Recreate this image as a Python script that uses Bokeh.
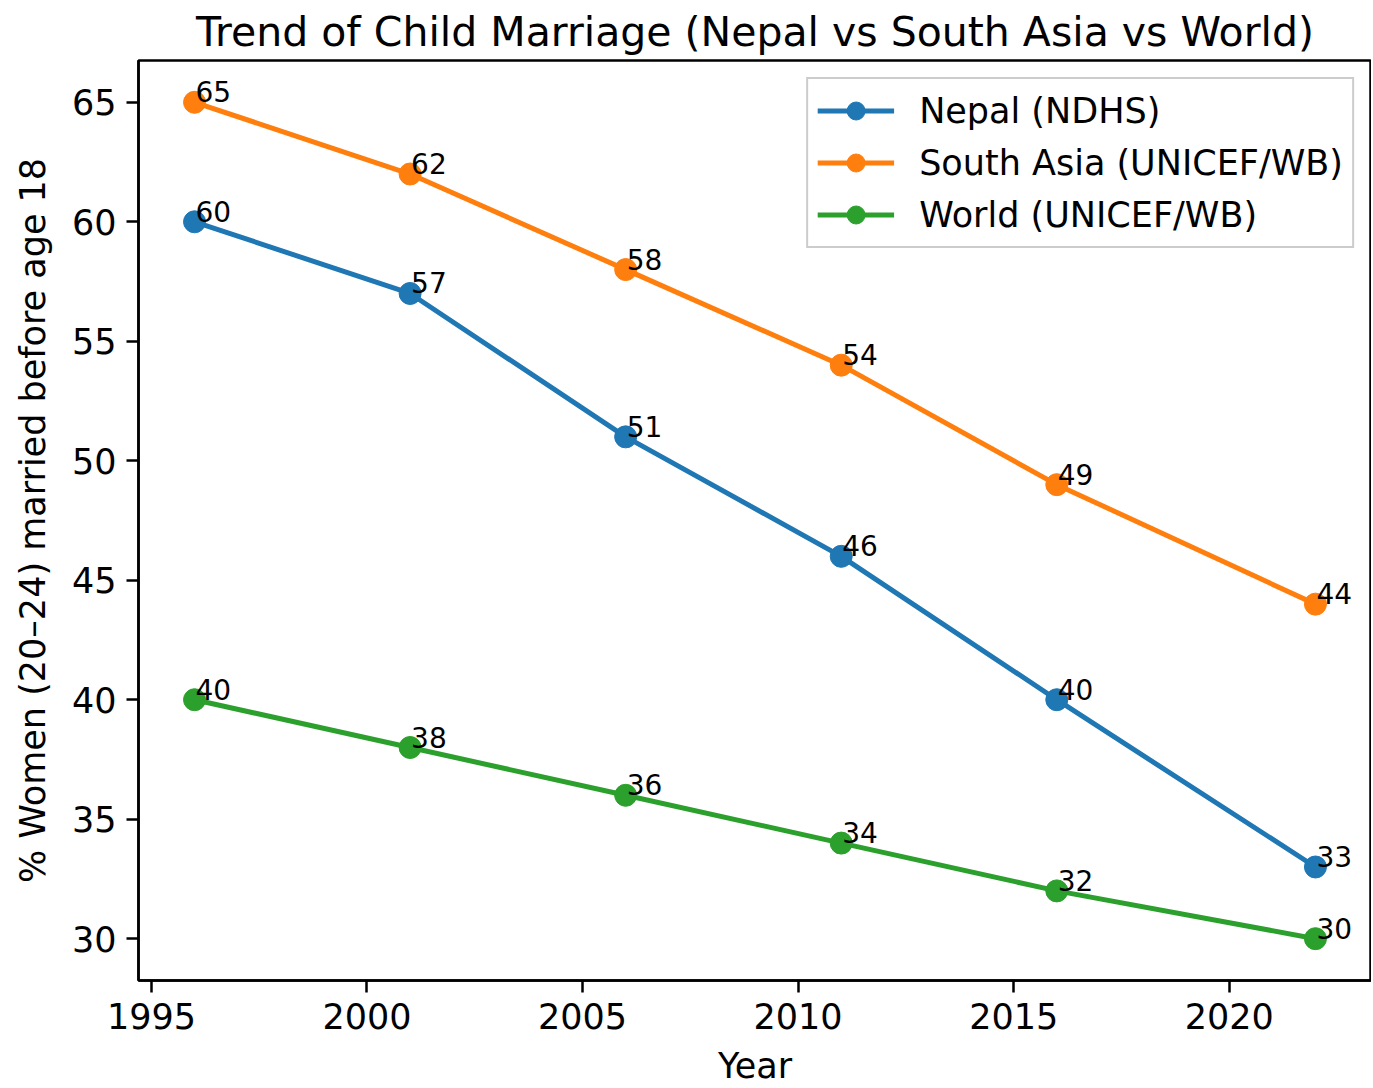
from bokeh.plotting import figure
from bokeh.models import ColumnDataSource, FixedTicker, Range1d, Legend, LegendItem
from bokeh.core.properties import value
from bokeh.embed import file_html
from bokeh.resources import INLINE

years = [1996, 2001, 2006, 2011, 2016, 2022]
nepal = [60, 57, 51, 46, 40, 33]
south_asia = [65, 62, 58, 54, 49, 44]
world = [40, 38, 36, 34, 32, 30]
series_names = ["Nepal (NDHS)", "South Asia (UNICEF/WB)", "World (UNICEF/WB)"]
colors = ["#1f77b4", "#ff7f0e", "#2ca02c"]
x_ticks = [1995, 2000, 2005, 2010, 2015, 2020]
y_ticks = [30, 35, 40, 45, 50, 55, 60, 65]

FONT = "DejaVu Sans"

p = figure(
    frame_width=1233, frame_height=920,
    min_border_left=138, min_border_right=0, min_border_top=50, min_border_bottom=98,
    output_backend="svg", toolbar_location=None,
    x_range=Range1d(1994.7, 2023.3), y_range=Range1d(28.25, 66.75),
    title="Trend of Child Marriage (Nepal vs South Asia vs World)",
)
p.background_fill_color = "white"
p.border_fill_color = "white"
p.xgrid.visible = False
p.ygrid.visible = False
p.outline_line_color = "black"
p.outline_line_width = 2.5
p.outline_line_alpha = 1.0

p.title.text_font = FONT
p.title.text_font_size = "41px"
p.title.text_font_style = "normal"
p.title.text_color = "black"
p.title.align = "center"
p.title.standoff = 10

for ax in (p.xaxis[0], p.yaxis[0]):
    ax.axis_line_width = 2.5
    ax.major_tick_line_width = 2.5
    ax.major_tick_out = 12
    ax.major_tick_in = 0
    ax.minor_tick_out = 0
    ax.minor_tick_in = 0
    ax.major_label_text_font = FONT
    ax.major_label_text_font_size = "35px"
    ax.major_label_text_color = "black"
    ax.major_label_standoff = 10
    ax.axis_label_text_font = FONT
    ax.axis_label_text_font_size = "35px"
    ax.axis_label_text_font_style = "normal"
    ax.axis_label_text_color = "black"

p.xaxis.ticker = FixedTicker(ticks=x_ticks)
p.yaxis.ticker = FixedTicker(ticks=y_ticks)
p.xaxis.axis_label = "Year"
p.yaxis.axis_label = "% Women (20\u201324) married before age 18"
p.xaxis.axis_label_standoff = 14
p.yaxis.axis_label_standoff = 16

items = []
for name, vals, col in zip(series_names, [nepal, south_asia, world], colors):
    src = ColumnDataSource(dict(x=years, y=vals, t=[str(v) for v in vals]))
    ln = p.line("x", "y", source=src, line_color=col, line_width=5)
    sc = p.scatter("x", "y", source=src, size=22, fill_color=col, line_color=col)
    p.text("x", "y", text="t", source=src, text_font=value(FONT), text_font_size="28px",
           text_color="black", text_align="left", text_baseline="bottom",
           x_offset=1, y_offset=0)
    items.append(LegendItem(label=name, renderers=[ln, sc]))

legend = Legend(items=items, location="top_right")
legend.margin = 17
legend.padding = 9
legend.spacing = 7
legend.label_text_font = FONT
legend.label_text_font_size = "35px"
legend.label_text_color = "black"
legend.label_height = 45
legend.glyph_height = 45
legend.glyph_width = 77
legend.label_standoff = 25
legend.border_line_color = "#cccccc"
legend.border_line_width = 2.5
legend.border_line_alpha = 1.0
legend.background_fill_alpha = 0.8
p.add_layout(legend)

open("out.html", "w").write(file_html(p, INLINE))
